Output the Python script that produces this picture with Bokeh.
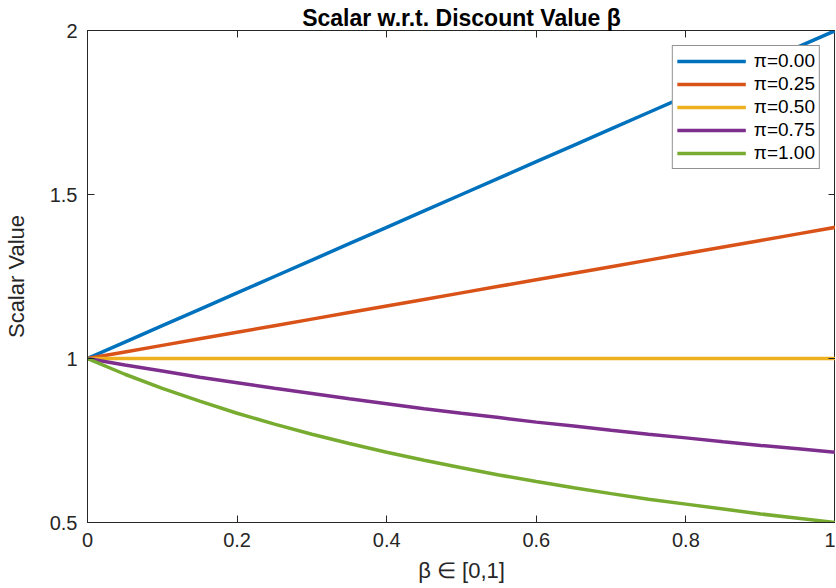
from bokeh.plotting import figure
from bokeh.models import Range1d, FixedTicker, LinearAxis, Legend, LegendItem
from bokeh.embed import file_html
from bokeh.resources import INLINE

beta = [0.0, 0.05, 0.1, 0.15, 0.2, 0.25, 0.3, 0.35, 0.4, 0.45, 0.5,
        0.55, 0.6, 0.65, 0.7, 0.75, 0.8, 0.85, 0.9, 0.95, 1.0]
pi_000 = [1.0, 1.05, 1.1, 1.15, 1.2, 1.25, 1.3, 1.35, 1.4, 1.45, 1.5,
          1.55, 1.6, 1.65, 1.7, 1.75, 1.8, 1.85, 1.9, 1.95, 2.0]
pi_025 = [1.0, 1.02, 1.04, 1.06, 1.08, 1.1, 1.12, 1.14, 1.16, 1.18, 1.2,
          1.22, 1.24, 1.26, 1.28, 1.3, 1.32, 1.34, 1.36, 1.38, 1.4]
pi_050 = [1.0, 1.0, 1.0, 1.0, 1.0, 1.0, 1.0, 1.0, 1.0, 1.0, 1.0,
          1.0, 1.0, 1.0, 1.0, 1.0, 1.0, 1.0, 1.0, 1.0, 1.0]
pi_075 = [1.0, 0.980, 0.962, 0.943, 0.926, 0.909, 0.893, 0.877, 0.862, 0.847, 0.833,
          0.820, 0.806, 0.794, 0.781, 0.769, 0.758, 0.746, 0.735, 0.725, 0.714]
pi_100 = [1.0, 0.952, 0.909, 0.870, 0.833, 0.800, 0.769, 0.741, 0.714, 0.690, 0.667,
          0.645, 0.625, 0.606, 0.588, 0.571, 0.556, 0.541, 0.526, 0.513, 0.5]
series = [pi_000, pi_025, pi_050, pi_075, pi_100]
labels = ["π=0.00", "π=0.25", "π=0.50", "π=0.75", "π=1.00"]
colors = ["#0072BD", "#D95319", "#EDB120", "#7E2F8E", "#77AC30"]
xticks = [0, 0.2, 0.4, 0.6, 0.8, 1.0]
xtick_labels = ["0", "0.2", "0.4", "0.6", "0.8", "1"]
yticks = [0.5, 1.0, 1.5, 2.0]
ytick_labels = ["0.5", "1", "1.5", "2"]

FONT = "Liberation Sans"
AX = "#262626"

p = figure(width=835, height=586, output_backend="svg", toolbar_location=None,
           x_range=Range1d(0, 1), y_range=Range1d(0.5, 2),
           min_border_left=86, min_border_right=0, min_border_top=30, min_border_bottom=64,
           title="Scalar w.r.t. Discount Value β")
p.title.align = "center"
p.title.text_font = FONT
p.title.text_font_size = "23px"
p.title.text_font_style = "bold"
p.title.text_color = "#000000"
p.title.offset = 0
p.title.standoff = 0
p.xgrid.visible = False
p.ygrid.visible = False
p.outline_line_color = AX
p.outline_line_width = 1

def style_axis(ax, ticks, labs, show_labels=True):
    ax.ticker = FixedTicker(ticks=ticks)
    ax.major_label_overrides = {t: l for t, l in zip(ticks, labs)}
    ax.major_tick_in = 7
    ax.major_tick_out = 0
    ax.minor_tick_in = 0
    ax.minor_tick_out = 0
    ax.axis_line_color = AX
    ax.major_tick_line_color = AX
    ax.major_label_text_font = FONT
    ax.major_label_text_font_size = "20px"
    ax.major_label_text_color = AX
    if not show_labels:
        ax.major_label_text_font_size = "0px"
        ax.major_label_text_alpha = 0
        ax.major_label_standoff = 0

style_axis(p.xaxis[0], xticks, xtick_labels)
style_axis(p.yaxis[0], yticks, ytick_labels)
p.xaxis[0].major_label_standoff = 10
p.yaxis[0].major_label_standoff = 10
p.xaxis[0].axis_label = "β ∈ [0,1]"
p.yaxis[0].axis_label = "Scalar Value"
for ax in (p.xaxis[0], p.yaxis[0]):
    ax.axis_label_text_font = FONT
    ax.axis_label_text_font_size = "22px"
    ax.axis_label_text_font_style = "normal"
    ax.axis_label_text_color = AX
p.xaxis[0].axis_label_standoff = 8
p.yaxis[0].axis_label_standoff = 18

top = LinearAxis()
style_axis(top, xticks, xtick_labels, show_labels=False)
p.add_layout(top, "above")
right = LinearAxis()
style_axis(right, yticks, ytick_labels, show_labels=False)
p.add_layout(right, "right")

items = []
for ys, lab, col in zip(series, labels, colors):
    r = p.line(beta, ys, line_color=col, line_width=3.5)
    items.append(LegendItem(label=lab, renderers=[r]))

leg = Legend(items=items, location="top_right")
leg.margin = 15
leg.padding = 4
leg.spacing = 1
leg.glyph_width = 69
leg.glyph_height = 20
leg.label_height = 20
leg.label_standoff = 8
leg.label_text_font = FONT
leg.label_text_font_size = "19px"
leg.label_text_color = "#000000"
leg.border_line_color = AX
leg.border_line_width = 1
leg.background_fill_color = "white"
leg.background_fill_alpha = 1
p.add_layout(leg, "center")

open("out.html", "w").write(file_html(p, INLINE))
